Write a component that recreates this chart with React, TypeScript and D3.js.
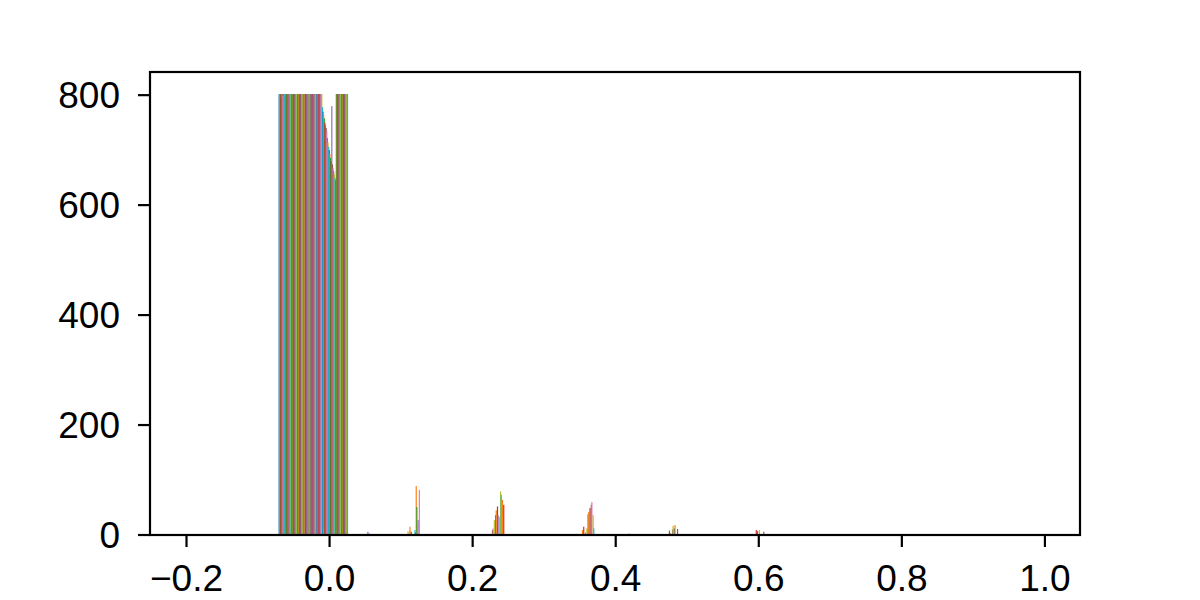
import React from 'react';
import * as d3 from 'd3';

// ---- data ----
const SERIES_COUNT = 110;
const BIN_START = -0.204;
const BIN_WIDTH = 0.1206;
const BIN_COUNT = 10;

const xTicks = [-0.2, 0.0, 0.2, 0.4, 0.6, 0.8, 1.0];
const yTicks = [0, 200, 400, 600, 800];

const tab10 = ['#1f77b4', '#ff7f0e', '#2ca02c', '#d62728', '#9467bd', '#8c564b', '#e377c2', '#7f7f7f', '#bcbd22', '#17becf'];

// counts of every series in histogram bin 1 (the big group around 0)
const bin1Counts = [
  802, 802, 802, 802, 795, 802, 798, 802, 799, 802,
  802, 802, 802, 802, 802, 802, 802, 802, 802, 802,
  802, 802, 802, 802, 802, 802, 802, 802, 802, 802,
  802, 802, 802, 802, 802, 802, 802, 802, 802, 802,
  802, 802, 802, 802, 802, 802, 802, 802, 802, 802,
  802, 802, 802, 802, 802, 802, 802, 802, 802, 802,
  802, 802, 802, 802, 802, 802, 802, 802, 802, 778,
  770, 764, 758, 750, 745, 740, 735, 722, 714, 706,
  700, 693, 686, 680, 780, 674, 668, 662, 656, 650,
  646, 802, 802, 802, 802, 802, 802, 802, 802, 802,
  802, 802, 802, 802, 802, 802, 802, 802, 802, 802,
];

// sparse counts for the other bins: [series index, count]
const bin2Counts: [number, number][] = [[4, 6], [6, 3], [68, 7], [71, 15], [73, 6], [79, 9], [80, 5], [81, 89], [82, 51], [84, 27], [86, 82]];
const bin3Counts: [number, number][] = [[65, 9], [66, 12], [68, 27], [70, 36], [71, 45], [73, 52], [74, 36], [77, 33], [78, 79], [79, 73], [81, 64], [83, 55]];
const bin4Counts: [number, number][] = [[71, 9], [73, 15], [76, 5], [78, 12], [80, 38], [81, 42], [83, 49], [85, 55], [86, 60], [88, 36], [89, 12]];
const bin5Counts: [number, number][] = [[8, 3], [72, 8], [73, 4], [77, 10], [78, 17], [80, 12], [81, 18], [85, 11]];
const bin6Counts: [number, number][] = [[73, 9], [75, 7], [78, 9], [85, 6]];

const W = 1200;
const H = 600;
const margin = { left: 150, right: 120, top: 72, bottom: 65 };

function buildCounts(): number[][] {
  const m: number[][] = d3.range(SERIES_COUNT).map(() => d3.range(BIN_COUNT).map(() => 0));
  bin1Counts.forEach((c, s) => { m[s][1] = c; });
  const sparse: [number, [number, number][]][] = [[2, bin2Counts], [3, bin3Counts], [4, bin4Counts], [5, bin5Counts], [6, bin6Counts]];
  sparse.forEach(([b, arr]) => arr.forEach(([s, c]) => { m[s][b] = c; }));
  return m;
}

export default function App() {
  const counts = buildCounts();
  const groupW = 0.8 * BIN_WIDTH;
  const barW = groupW / SERIES_COUNT;
  const lo = BIN_START + 0.1 * BIN_WIDTH;
  const hi = BIN_START + BIN_COUNT * BIN_WIDTH - 0.1 * BIN_WIDTH;
  const pad = 0.05 * (hi - lo);
  const x = d3.scaleLinear().domain([lo - pad, hi + pad]).range([margin.left, W - margin.right]);
  const maxC = d3.max(counts, (r) => d3.max(r)) as number;
  const y = d3.scaleLinear().domain([0, maxC * 1.05]).range([H - margin.bottom, margin.top]);

  const bars: React.ReactNode[] = [];
  for (let s = 0; s < SERIES_COUNT; s++) {
    for (let b = 0; b < BIN_COUNT; b++) {
      const c = counts[s][b];
      if (c <= 0) continue;
      const center = BIN_START + (b + 0.5) * BIN_WIDTH;
      const x0 = center - groupW / 2 + s * barW;
      const px0 = x(x0);
      const px1 = x(x0 + barW);
      bars.push(
        <rect key={`${s}-${b}`} x={px0} width={px1 - px0 + 0.55} y={y(c)} height={y(0) - y(c)} fill={tab10[s % 10]} />
      );
    }
  }

  const fmt = d3.format('.1f');
  const font = "'Liberation Sans', Arial, Helvetica, sans-serif";
  const fs = 37;
  const tickLen = 12;
  const x0px = margin.left;
  const x1px = W - margin.right;
  const y0px = H - margin.bottom;
  const y1px = margin.top;

  return (
    <svg width={W} height={H} style={{ position: 'absolute', left: 0, top: 0, background: '#fff' }} fontFamily={font}>
      <rect x={0} y={0} width={W} height={H} fill="#fff" />
      <g>{bars}</g>
      <rect x={x0px} y={y1px} width={x1px - x0px} height={y0px - y1px} fill="none" stroke="#000" strokeWidth={2.2} />
      {yTicks.map((t) => (
        <g key={`y${t}`}>
          <line x1={x0px - tickLen} x2={x0px} y1={y(t)} y2={y(t)} stroke="#000" strokeWidth={2.2} />
          <text x={x0px - tickLen - 18} y={y(t) + 13} textAnchor="end" fontSize={fs} fill="#000">{t}</text>
        </g>
      ))}
      {xTicks.map((t) => (
        <g key={`x${t}`}>
          <line x1={x(t)} x2={x(t)} y1={y0px} y2={y0px + tickLen} stroke="#000" strokeWidth={2.2} />
          <text x={x(t)} y={y0px + 56} textAnchor="middle" fontSize={fs} fill="#000">{fmt(t).replace('-', '\u2212')}</text>
        </g>
      ))}
    </svg>
  );
}
